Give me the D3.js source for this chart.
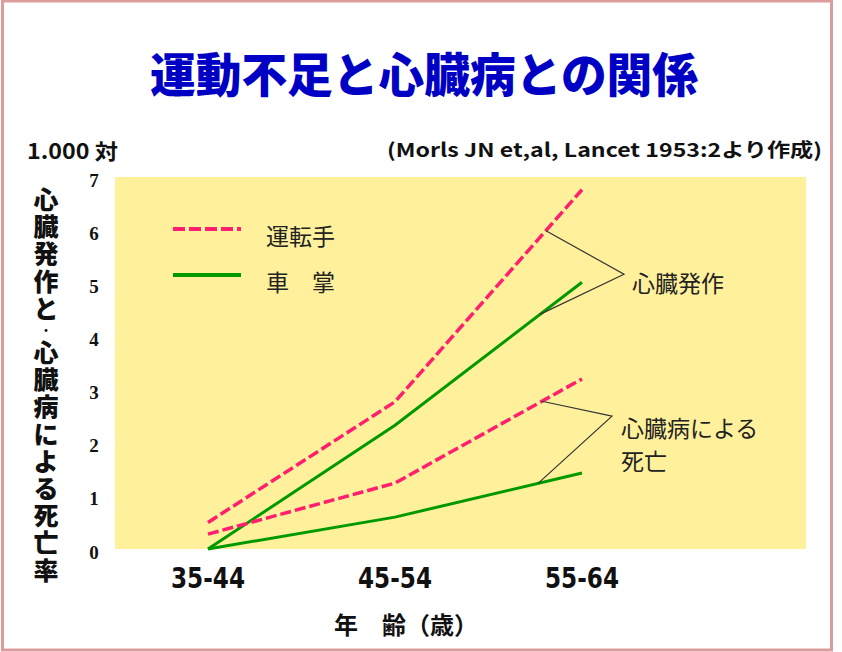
<!DOCTYPE html>
<html>
<head>
<meta charset="utf-8">
<script src="https://cdn.jsdelivr.net/npm/d3@7"></script>
<style>
  body { margin: 0; background: #fff; }
  svg text { font-family: "Noto Sans CJK JP", "Noto Sans", sans-serif; }
</style>
</head>
<body>
<div id="chart"></div>
<script>
// chart data
var ageGroups = ["35-44", "45-54", "55-64"];
var yTicks = [0, 1, 2, 3, 4, 5, 6, 7];

var driverAttack = [0.5, 2.77, 6.76];      // 運転手 心臓発作
var conductorAttack = [0, 2.33, 5.02];     // 車掌 心臓発作
var driverDeath = [0.28, 1.24, 3.2];       // 運転手 心臓病による死亡
var conductorDeath = [0, 0.6, 1.43];       // 車掌 心臓病による死亡

var legendLabels = ["運転手", "車　掌"];
var titleText = "運動不足と心臓病との関係";
var yTitleChars = ["心", "臓", "発", "作", "と", "･", "心", "臓", "病", "に", "よ", "る", "死", "亡", "率"];

var pink = "#ff1f6e";
var green = "#009a00";

var width = 842, height = 652;

var svg = d3.select("#chart")
    .append("svg")
    .attr("width", width)
    .attr("height", height);

// outer frame
svg.append("rect")
    .attr("x", 2.5)
    .attr("y", 1)
    .attr("width", 829)
    .attr("height", 649)
    .attr("fill", "#fff")
    .attr("stroke", "#dc9c9c")
    .attr("stroke-width", 3);

// title
svg.append("text")
    .attr("x", 424)
    .attr("y", 71)
    .attr("text-anchor", "middle")
    .attr("dominant-baseline", "central")
    .attr("font-size", "47px")
    .attr("font-weight", 900)
    .attr("fill", "#0000c4")
    .attr("textLength", 548)
    .attr("lengthAdjust", "spacingAndGlyphs")
    .text(titleText);

// unit and source
svg.append("text")
    .attr("x", 27)
    .attr("y", 150)
    .attr("dominant-baseline", "central")
    .attr("font-size", "21px")
    .attr("font-weight", 700)
    .attr("fill", "#111")
    .attr("textLength", 91)
    .attr("lengthAdjust", "spacingAndGlyphs")
    .text("1.000 対");

svg.append("text")
    .attr("x", 387)
    .attr("y", 148)
    .attr("dominant-baseline", "central")
    .attr("font-size", "19px")
    .attr("font-weight", 700)
    .attr("fill", "#111")
    .attr("textLength", 435)
    .attr("lengthAdjust", "spacingAndGlyphs")
    .text("(Morls JN et,al, Lancet  1953:2より作成)");

// scales
var plotLeft = 115, plotRight = 806, plotTop = 177, plotBottom = 549;

var x = d3.scalePoint()
    .domain(ageGroups)
    .range([208, 582]);

var y = d3.scaleLinear()
    .domain([0, 7])
    .range([plotBottom, plotTop]);

// plot background
svg.append("rect")
    .attr("x", plotLeft)
    .attr("y", plotTop)
    .attr("width", plotRight - plotLeft)
    .attr("height", plotBottom - plotTop)
    .attr("fill", "#fff09b");

// y tick labels
svg.selectAll("text.ytick")
    .data(yTicks)
    .enter()
    .append("text")
    .attr("class", "ytick")
    .attr("x", 94)
    .attr("y", function(d) { return y(d) + 3; })
    .attr("text-anchor", "middle")
    .attr("dominant-baseline", "central")
    .style("font-family", "'Liberation Serif', 'DejaVu Serif', serif")
    .style("font-size", "19px")
    .style("font-weight", "bold")
    .attr("fill", "#111")
    .text(function(d) { return d; });

// x tick labels
svg.selectAll("text.xtick")
    .data(ageGroups)
    .enter()
    .append("text")
    .attr("class", "xtick")
    .attr("x", function(d) { return x(d); })
    .attr("y", 578)
    .attr("text-anchor", "middle")
    .attr("dominant-baseline", "central")
    .style("font-family", "'DejaVu Sans', sans-serif")
    .attr("font-size", "29px")
    .attr("font-weight", 700)
    .attr("fill", "#111")
    .attr("textLength", 74)
    .attr("lengthAdjust", "spacingAndGlyphs")
    .text(function(d) { return d; });

// x axis title
svg.append("text")
    .attr("x", 406)
    .attr("y", 623)
    .attr("text-anchor", "middle")
    .attr("dominant-baseline", "central")
    .attr("font-size", "24px")
    .attr("font-weight", 700)
    .attr("fill", "#111")
    .text("年　齢（歳）");

// y axis title, one character per row
var yTitleY = 198;
yTitleChars.forEach(function(c) {
    var dot = (c == "･");
    svg.append("text")
        .attr("x", 46)
        .attr("y", dot ? yTitleY - 5 : yTitleY)
        .attr("text-anchor", "middle")
        .attr("dominant-baseline", "central")
        .attr("font-size", dot ? "14px" : "25px")
        .attr("font-weight", 900)
        .attr("fill", "#111")
        .text(c);
    yTitleY += dot ? 17 : 27.2;
});

// data lines
var series = [
    {values: driverAttack, color: pink, dash: "11,4"},
    {values: conductorAttack, color: green, dash: null},
    {values: driverDeath, color: pink, dash: "11,4"},
    {values: conductorDeath, color: green, dash: null}
];

var line = d3.line()
    .x(function(d, i) { return x(ageGroups[i]); })
    .y(function(d) { return y(d); });

svg.selectAll("path.series")
    .data(series)
    .enter()
    .append("path")
    .attr("class", "series")
    .attr("d", function(d) { return line(d.values); })
    .attr("fill", "none")
    .attr("stroke", function(d) { return d.color; })
    .attr("stroke-width", function(d) { return d.dash ? 3.5 : 3; })
    .attr("stroke-dasharray", function(d) { return d.dash; });

// legend
var legend = [
    {label: legendLabels[0], color: pink, dash: "12,4", y: 229},
    {label: legendLabels[1], color: green, dash: null, y: 275}
];

legend.forEach(function(d) {
    svg.append("line")
        .attr("x1", 173)
        .attr("x2", 241)
        .attr("y1", d.y)
        .attr("y2", d.y)
        .attr("stroke", d.color)
        .attr("stroke-width", 4)
        .attr("stroke-dasharray", d.dash);
    svg.append("text")
        .attr("x", 266)
        .attr("y", d.y + 6)
        .attr("dominant-baseline", "central")
        .attr("font-size", "23px")
        .attr("fill", "#222")
        .text(d.label);
});

// annotations: leader lines from two series to a vertex, then label
function pointOn(values, t) {
    // point on the last segment, t from 0 to 1
    var x0 = x(ageGroups[1]), x1 = x(ageGroups[2]);
    var v = values[1] + (values[2] - values[1]) * t;
    return [x0 + (x1 - x0) * t, y(v)];
}

var annotations = [
    {from: [driverAttack, 0.807], to: [conductorAttack, 0.775], vertex: [42, 5.17],
     lines: ["心臓発作"], tx: 632, ty: 282},
    {from: [driverDeath, 0.786], to: [conductorDeath, 0.765], vertex: [30, 2.50],
     lines: ["心臓病による", "死亡"], tx: 621, ty: 427}
];

annotations.forEach(function(a) {
    var p1 = pointOn(a.from[0], a.from[1]);
    var p2 = pointOn(a.to[0], a.to[1]);
    var pv = [x(ageGroups[2]) + a.vertex[0], y(a.vertex[1])];
    svg.append("path")
        .attr("d", d3.line()([p1, pv, p2]))
        .attr("fill", "none")
        .attr("stroke", "#333")
        .attr("stroke-width", 1.2);
    a.lines.forEach(function(t, i) {
        svg.append("text")
            .attr("x", a.tx)
            .attr("y", a.ty + i * 33)
            .attr("dominant-baseline", "central")
            .attr("font-size", "23px")
            .attr("fill", "#222")
            .text(t);
    });
});
</script>
</body>
</html>
